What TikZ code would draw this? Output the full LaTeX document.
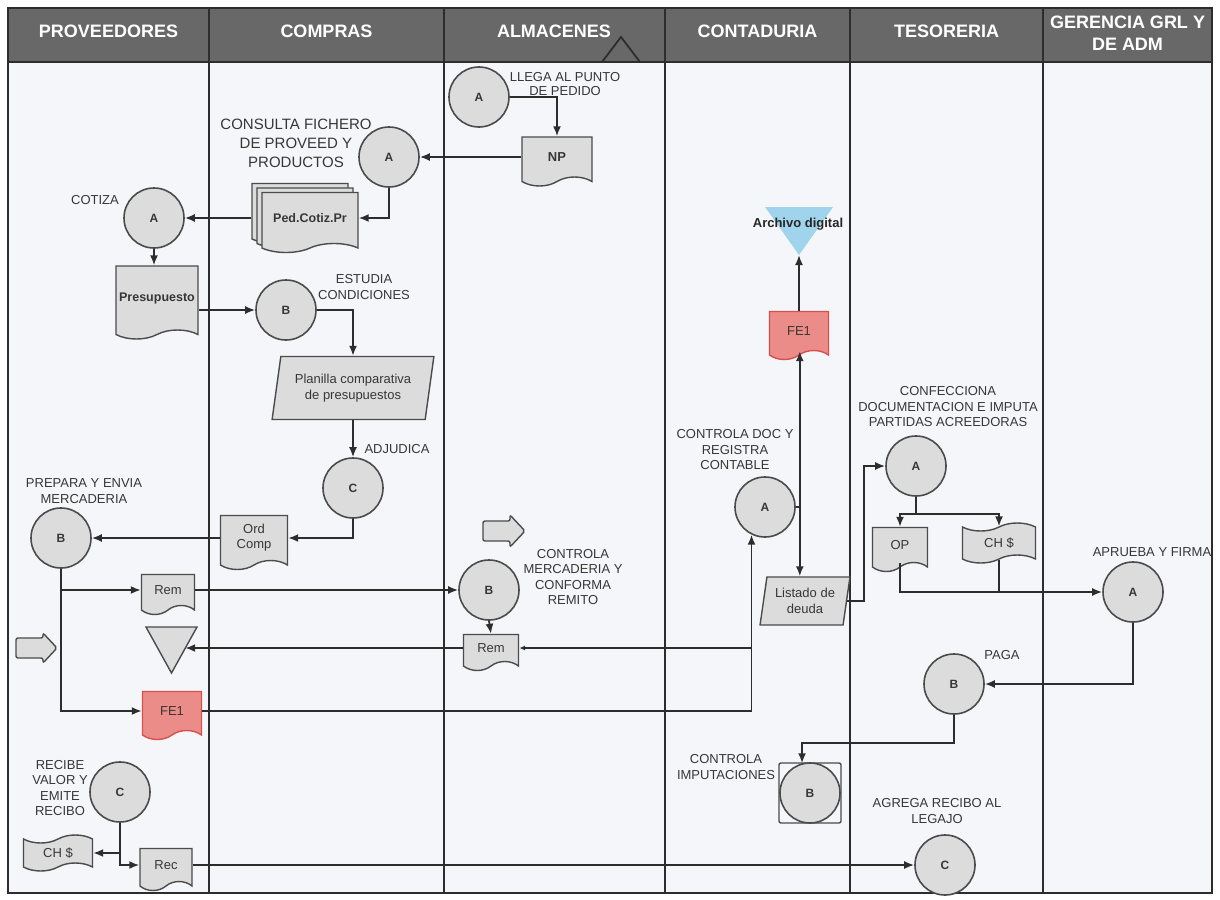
\documentclass[tikz,border=0pt]{standalone}
\usepackage{fontspec}
\setmainfont{Liberation Sans}
\usetikzlibrary{arrows.meta,shapes.geometric,shapes.symbols,calc}
\definecolor{hdr}{RGB}{104,104,104}
\definecolor{bgc}{RGB}{244,246,249}
\definecolor{ln}{RGB}{45,45,45}
\definecolor{nfill}{RGB}{220,220,220}
\definecolor{nline}{RGB}{75,75,75}
\definecolor{txt}{RGB}{55,55,55}
\definecolor{redfill}{RGB}{236,140,136}
\definecolor{redline}{RGB}{214,80,76}
\definecolor{archblue}{RGB}{160,212,236}
\begin{document}
\begin{tikzpicture}[x=1pt,y=-1pt,
  circ/.style={circle, draw=nline, line width=1.6pt, fill=nfill, minimum size=60pt, inner sep=0pt, font=\fontsize{12}{14}\selectfont\bfseries, text=txt},
  doc/.style={tape, tape bend top=none, tape bend height=9pt, draw=nline, line width=1.4pt, fill=nfill, inner sep=0pt, font=\fontsize{13}{15}\selectfont, text=txt, align=center},
  reddoc/.style={doc, fill=redfill, draw=redline},
  chq/.style={tape, tape bend height=8pt, draw=nline, line width=1.4pt, fill=nfill, inner sep=0pt, font=\fontsize{13}{15}\selectfont, text=txt},
  para/.style={trapezium, trapezium stretches=true, draw=nline, line width=1.4pt, fill=nfill, inner sep=0pt, font=\fontsize{13}{16}\selectfont, text=txt, align=center},
  lbl/.style={font=\fontsize{13}{15.5}\selectfont, text=txt, align=center, inner sep=0pt},
  hd/.style={font=\fontsize{18}{22}\selectfont\bfseries, text=white, align=center, inner sep=0pt},
  arr/.style={draw=ln, line width=1.8pt, -{Latex[length=10pt,width=8pt]}},
  con/.style={draw=ln, line width=1.8pt},
  blk/.style={draw=nline, line width=1.4pt, fill=nfill, rounded corners=2pt},
]
\useasboundingbox (0,0) rectangle (1220,899);
% frame and lanes
\fill[bgc] (8,8) rectangle (1212,893);
\fill[hdr] (8,8) rectangle (1212,62);
\foreach \x in {209,444,665,850,1043} \draw[ln, line width=1.4pt] (\x,8) -- (\x,893);
\draw[ln, line width=1.4pt] (8,62) -- (1212,62);
\draw[ln, line width=1.5pt] (8,8) rectangle (1212,893);
\node[hd] (h1) at (108.5,31) {PROVEEDORES};
\node[hd] (h2) at (326.5,31) {COMPRAS};
\node[hd] (h3) at (554,31) {ALMACENES};
\node[hd] (h4) at (757.5,31) {CONTADURIA};
\node[hd] (h5) at (946.5,31) {TESORERIA};
\node[hd] (h6) at (1127.5,33) {GERENCIA GRL Y\\DE ADM};
\draw[ln, line width=1.8pt] (602,62) -- (621,37) -- (640,62);

% ALMACENES top
\node[circ] (almA) at (479,97) {A};
\node[lbl, font=\fontsize{13}{13.5}\selectfont] (lAlmA) at (565,84) {LLEGA AL PUNTO\\DE PEDIDO};
\node[doc, font=\fontsize{13}{15}\selectfont\bfseries, minimum width=70pt, minimum height=49pt] (np) at (557,157) {NP};

% COMPRAS A
\node[circ] (comA) at (389,157) {A};
\node[lbl, font=\fontsize{15}{19}\selectfont] (lComA) at (296,143) {CONSULTA FICHERO\\DE PROVEED Y\\PRODUCTOS};
\node[doc, minimum width=96pt, minimum height=60pt] (pedb2) at (300,209) {};
\node[doc, minimum width=96pt, minimum height=60pt] (pedb1) at (305,213.5) {};
\node[doc, font=\fontsize{12.5}{15}\selectfont\bfseries, minimum width=96pt, minimum height=60pt] (ped) at (310,218) {Ped.Cotiz.Pr};

% PROVEEDORES A
\node[circ] (provA) at (154,218) {A};
\node[lbl] (lProvA) at (95,200) {COTIZA};
\node[doc, font=\fontsize{12.5}{15}\selectfont\bfseries, minimum width=82pt, minimum height=73pt] (presup) at (157,298) {Presupuesto};

% COMPRAS B, C
\node[circ] (comB) at (286,310) {B};
\node[lbl] (lComB) at (364,287) {ESTUDIA\\CONDICIONES};
\node[para, trapezium left angle=76, trapezium right angle=104, minimum width=162pt, minimum height=63pt] (plan) at (353,388) {Planilla comparativa\\de presupuestos};
\node[circ] (comC) at (353,488) {C};
\node[lbl] (lComC) at (397,449) {ADJUDICA};
\node[doc, minimum width=67pt, minimum height=54pt] (ordc) at (254,538) {Ord\\Comp};

% PROVEEDORES B
\node[circ] (provB) at (61,538) {B};
\node[lbl] (lProvB) at (84,491) {PREPARA Y ENVIA\\MERCADERIA};
\node[doc, minimum width=53pt, minimum height=40pt] (rem1) at (168,590) {Rem};
\node[reddoc, minimum width=59pt, minimum height=48pt] (fe1p) at (172,711) {FE1};
\filldraw[fill=nfill, draw=nline, line width=1.4pt] (146,627) -- (197,627) -- (171.5,673) -- cycle;
\coordinate (ptri) at (185.2,648);
\path[blk] (16,638) -- (43,638) -- (43,633) -- (57,648) -- (43,663) -- (43,658) -- (16,658) -- cycle;

% ALMACENES B
\path[blk] (483,521) -- (510,521) -- (510,515) -- (525,531) -- (510,547) -- (510,541) -- (483,541) -- cycle;
\node[circ] (almB) at (489,590) {B};
\node[lbl] (lAlmB) at (573,577) {CONTROLA\\MERCADERIA Y\\CONFORMA\\REMITO};
\node[doc, minimum width=55pt, minimum height=36pt] (rem2) at (491,648) {Rem};

% CONTADURIA
\fill[archblue] (765,207) -- (833,207) -- (799,255) -- cycle;
\coordinate (archtip) at (799,255);
\node[font=\fontsize{13}{15}\selectfont\bfseries, text=black!85, inner sep=0pt] (archtxt) at (798,224) {Archivo digital};
\node[reddoc, minimum width=59pt, minimum height=48pt] (fe1c) at (799,331) {FE1};
\node[circ] (contA) at (765,507) {A};
\node[lbl] (lContA) at (735,450) {CONTROLA DOC Y\\REGISTRA\\CONTABLE};
\node[para, trapezium left angle=78, trapezium right angle=102, minimum width=90pt, minimum height=48pt] (listado) at (805,601) {Listado de\\deuda};
\node[draw=nline, line width=1.4pt, rounded corners=2pt, minimum width=62pt, minimum height=60pt, inner sep=0pt] (ctrlSq) at (810,793) {};
\node[circ] (ctrlB) at (810,793) {B};
\node[lbl] (lCtrlB) at (726,767) {CONTROLA\\IMPUTACIONES};

% TESORERIA
\node[circ] (tesA) at (916,466) {A};
\node[lbl] (lTesA) at (948,407) {CONFECCIONA\\DOCUMENTACION E IMPUTA\\PARTIDAS ACREEDORAS};
\node[doc, minimum width=55pt, minimum height=44pt] (op) at (900,545) {OP};
\node[chq, minimum width=73pt, minimum height=40pt] (chT) at (999,543) {CH \$};
\node[circ] (pagaB) at (954,684) {B};
\node[lbl] (lPaga) at (1002,655) {PAGA};
\node[circ] (tesC) at (945,865) {C};
\node[lbl] (lTesC) at (937,811) {AGREGA RECIBO AL\\LEGAJO};

% GERENCIA
\node[circ] (gerA) at (1133,592) {A};
\node[lbl] (lGerA) at (1152,552) {APRUEBA Y FIRMA};

% PROVEEDORES C
\node[circ] (provC) at (120,792) {C};
\node[lbl] (lProvC) at (60,788) {RECIBE\\VALOR Y\\EMITE\\RECIBO};
\node[chq, minimum width=69pt, minimum height=36pt] (chP) at (58,853) {CH \$};
\node[doc, minimum width=52pt, minimum height=42pt] (rec) at (166,865) {Rec};

% connectors
\draw[arr] (almA.east) -| (np.north);
\draw[arr] (np.west) -- (comA.east);
\draw[arr] (comA.south) |- (ped.east);
\draw[arr] (pedb2.west |- ped.west) -- (provA.east);
\draw[arr] (provA.south) -- (provA.south |- presup.north);
\draw[arr] (presup.east |- comB.west) -- (comB.west);
\draw[arr] (comB.east) -| (plan.north);
\draw[arr] (plan.south) -- (comC.north);
\draw[arr] (comC.south) |- (ordc.east);
\draw[arr] (ordc.west) -- (provB.east);
\draw[arr] (provB.south) |- (rem1.west);
\draw[arr] (provB.south) |- (fe1p.west);
\draw[arr] (rem1.east) -- (almB.west);
\draw[arr] (almB.south) -- (rem2.north);
\draw[arr] (rem2.west) -- (ptri);
\draw[arr] (fe1p.east) -| (contA.-116);
\draw[con, -{Latex[length=6pt,width=5pt]}] (contA.-116 |- rem2.east) -- (rem2.east);
\draw[con] (contA.east) -- ++(4,0) coordinate (jc);
\draw[arr] (jc) -- (jc |- fe1c.south);
\draw[arr] (jc) -- (jc |- listado.north);
\draw[arr] (fe1c.north) -- (archtip);
\draw[arr] (listado.east) -- ++(17,0) |- (tesA.west);
\draw[arr] (tesA.south) -- ++(0,17) -| (op.north);
\draw[arr] (tesA.south) -- ++(0,17) -| (chT.north);
\draw[arr] (op.south) |- (gerA.west);
\draw[con] (chT.south) -- (chT.south |- gerA.west);
\draw[arr] (gerA.south) |- (pagaB.east);
\draw[arr] (pagaB.south) -- ++(0,28) -| (ctrlB.105);
\draw[arr] (provC.south) |- (rec.west);
\draw[arr] (provC.south |- chP.east) -- (chP.east);
\draw[arr] (rec.east) -- (tesC.west);
\end{tikzpicture}
\end{document}
